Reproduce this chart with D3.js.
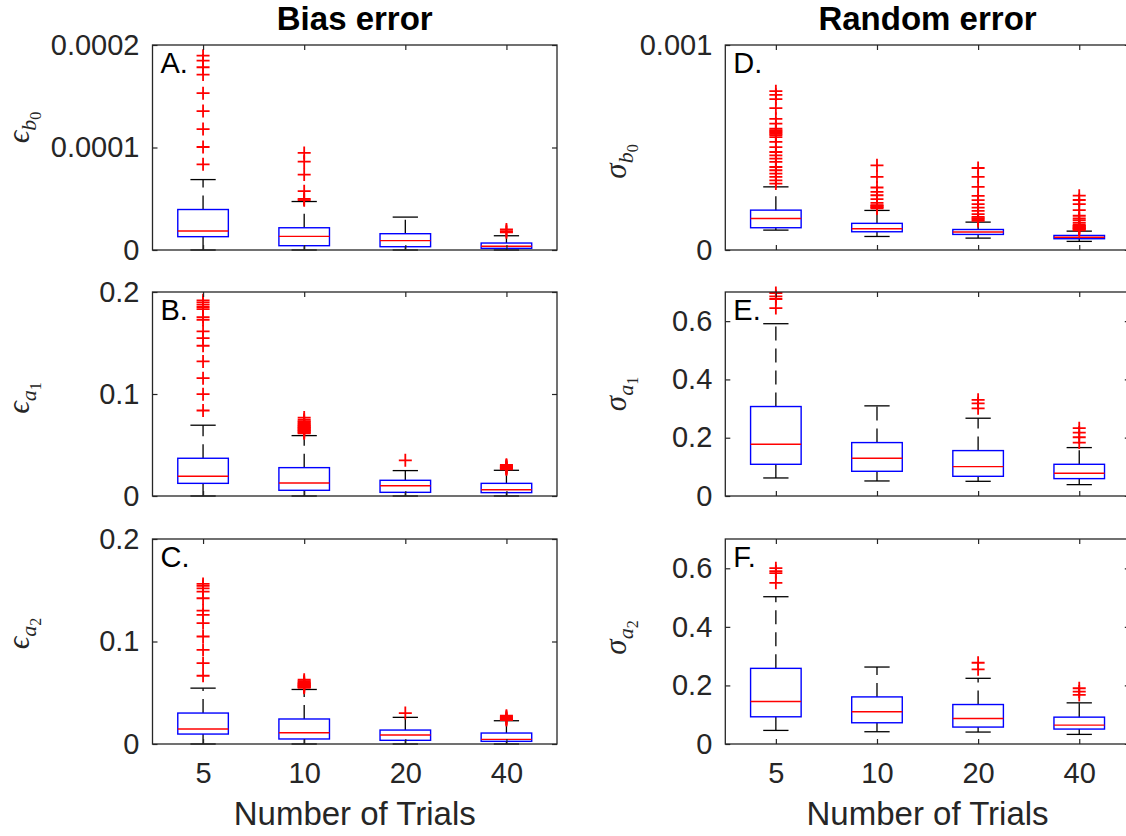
<!DOCTYPE html>
<html>
<head>
<meta charset="utf-8">
<script src="https://cdn.jsdelivr.net/npm/d3@7"></script>
<style>
  body { margin: 0; background: #fff; }
  svg { display: block; font-family: "Liberation Sans", Arial, sans-serif; }
</style>
</head>
<body>
<div id="chart"></div>
<script>
const trials = ["5", "10", "20", "40"];

// box stats per trial count: [lower whisker, q1, median, q3, upper whisker]
const biasB0Stats = [
  [0, 1.30e-5, 1.85e-5, 3.95e-5, 6.87e-5],
  [0, 4.2e-6, 1.33e-5, 2.17e-5, 4.73e-5],
  [0, 3.2e-6, 9.1e-6, 1.59e-5, 3.21e-5],
  [0, 1.6e-6, 3.6e-6, 6.8e-6, 1.39e-5]
];
const biasB0Outliers = [
  [8.36e-5, 1.005e-4, 1.18e-4, 1.355e-4, 1.53e-4, 1.711e-4, 1.783e-4, 1.848e-4, 1.896e-4],
  [4.86e-5, 4.99e-5, 5.74e-5, 7.36e-5, 8.62e-5, 9.47e-5],
  [],
  [1.72e-5, 1.85e-5, 2.01e-5]
];

const biasA1Stats = [
  [0, 0.0124, 0.0193, 0.0370, 0.0694],
  [0, 0.0056, 0.0128, 0.0278, 0.0592],
  [0, 0.0036, 0.0101, 0.0154, 0.0249],
  [0, 0.0033, 0.0062, 0.0124, 0.0252]
];
const biasA1Outliers = [
  [0.0838, 0.0998, 0.1155, 0.1319, 0.1473, 0.1548, 0.1614, 0.1728, 0.1754, 0.1833, 0.1853, 0.1876, 0.1899, 0.1918],
  [0.0615, 0.0622, 0.0631, 0.0638, 0.0646, 0.0653, 0.0660, 0.0668, 0.0675, 0.0684, 0.0692, 0.0701, 0.0712, 0.0723, 0.0735, 0.0748, 0.0769],
  [0.0350],
  [0.0262, 0.0268, 0.0273, 0.0279, 0.0284, 0.0291, 0.0298, 0.0306]
];

const biasA2Stats = [
  [0, 0.0097, 0.0146, 0.0302, 0.0545],
  [0, 0.0049, 0.0110, 0.0244, 0.0532],
  [0, 0.0036, 0.0088, 0.0136, 0.0260],
  [0, 0.0026, 0.0045, 0.0107, 0.0227]
];
const biasA2Outliers = [
  [0.0666, 0.0789, 0.0919, 0.1049, 0.1179, 0.1260, 0.1302, 0.1422, 0.1487, 0.1519, 0.1542, 0.1562],
  [0.0548, 0.0554, 0.0561, 0.0567, 0.0573, 0.0580, 0.0586, 0.0593, 0.0601, 0.0612, 0.0627],
  [0.0302],
  [0.0234, 0.0241, 0.0248, 0.0256, 0.0265, 0.0276]
];

const randB0Stats = [
  [9.7e-5, 1.086e-4, 1.54e-4, 1.945e-4, 3.08e-4],
  [6.6e-5, 8.9e-5, 1.04e-4, 1.30e-4, 1.93e-4],
  [5.8e-5, 7.6e-5, 8.75e-5, 1.00e-4, 1.36e-4],
  [4.2e-5, 5.5e-5, 6.2e-5, 7.1e-5, 9.2e-5]
];
const randB0Outliers = [
  [3.24e-4, 3.40e-4, 3.57e-4, 3.73e-4, 3.89e-4, 4.05e-4, 4.30e-4, 4.46e-4, 4.62e-4, 4.78e-4, 5.02e-4,
   5.27e-4, 5.51e-4, 5.60e-4, 5.67e-4, 5.74e-4, 5.79e-4, 5.85e-4, 5.92e-4, 6.16e-4, 6.40e-4, 6.92e-4,
   7.36e-4, 7.57e-4, 7.75e-4],
  [2.03e-4, 2.08e-4, 2.11e-4, 2.16e-4, 2.19e-4, 2.30e-4, 2.48e-4, 2.67e-4, 2.84e-4, 3.05e-4, 3.57e-4, 4.13e-4],
  [1.42e-4, 1.49e-4, 1.55e-4, 1.62e-4, 1.75e-4, 1.91e-4, 2.07e-4, 2.24e-4, 2.43e-4, 2.64e-4, 3.08e-4, 3.57e-4, 4.00e-4],
  [9.6e-5, 1.00e-4, 1.04e-4, 1.07e-4, 1.10e-4, 1.14e-4, 1.18e-4, 1.22e-4, 1.33e-4, 1.46e-4, 1.54e-4,
   1.67e-4, 1.95e-4, 2.24e-4, 2.44e-4, 2.65e-4]
];

const randA1Stats = [
  [0.0619, 0.1088, 0.1776, 0.3070, 0.5912],
  [0.0516, 0.0848, 0.1295, 0.1833, 0.3093],
  [0.0504, 0.0676, 0.1008, 0.1558, 0.2669],
  [0.0390, 0.0596, 0.0779, 0.1088, 0.1661]
];
const randA1Outliers = [
  [0.645, 0.676, 0.685, 0.6966],
  [],
  [0.301, 0.318, 0.330],
  [0.1833, 0.2016, 0.2177, 0.2326]
];

const randA2Stats = [
  [0.0464, 0.0929, 0.1450, 0.2583, 0.5029],
  [0.0419, 0.0725, 0.1099, 0.1608, 0.2628],
  [0.0408, 0.0578, 0.0872, 0.1348, 0.2243],
  [0.0328, 0.0510, 0.0646, 0.0917, 0.1405]
];
const randA2Outliers = [
  [0.5505, 0.5833, 0.590, 0.6003],
  [],
  [0.2549, 0.2775],
  [0.1676, 0.1790, 0.1903]
];

// y axis ticks
const b0BiasTicks = [0, 0.0001, 0.0002];
const b0BiasTickLabels = ["0", "0.0001", "0.0002"];
const aBiasTicks = [0, 0.1, 0.2];
const aBiasTickLabels = ["0", "0.1", "0.2"];
const b0RandTicks = [0, 0.001];
const b0RandTickLabels = ["0", "0.001"];
const aRandTicks = [0, 0.2, 0.4, 0.6];
const aRandTickLabels = ["0", "0.2", "0.4", "0.6"];

const columnTitles = ["Bias error", "Random error"];
const xLabel = "Number of Trials";

// ---- layout ----
const W = 1126, H = 836;
const cols = [[152.5, 557], [725.3, 1129.8]];
const rows = [[45, 250], [292, 496], [539, 744]];

const panels = [
  { tag: "A.", col: 0, row: 0, stats: biasB0Stats, out: biasB0Outliers, max: 0.0002, ticks: b0BiasTicks, labels: b0BiasTickLabels, sym: "\u03F5", sub: "b", subsub: "0", shift: -20 },
  { tag: "B.", col: 0, row: 1, stats: biasA1Stats, out: biasA1Outliers, max: 0.2, ticks: aBiasTicks, labels: aBiasTickLabels, sym: "\u03F5", sub: "a", subsub: "1", shift: 4 },
  { tag: "C.", col: 0, row: 2, stats: biasA2Stats, out: biasA2Outliers, max: 0.2, ticks: aBiasTicks, labels: aBiasTickLabels, sym: "\u03F5", sub: "a", subsub: "2", shift: -8 },
  { tag: "D.", col: 1, row: 0, stats: randB0Stats, out: randB0Outliers, max: 0.001, ticks: b0RandTicks, labels: b0RandTickLabels, sym: "\u03C3", sub: "b", subsub: "0", shift: 14 },
  { tag: "E.", col: 1, row: 1, stats: randA1Stats, out: randA1Outliers, max: 0.7, ticks: aRandTicks, labels: aRandTickLabels, sym: "\u03C3", sub: "a", subsub: "1", shift: 0 },
  { tag: "F.", col: 1, row: 2, stats: randA2Stats, out: randA2Outliers, max: 0.7, ticks: aRandTicks, labels: aRandTickLabels, sym: "\u03C3", sub: "a", subsub: "2", shift: -4 }
];

const axisColor = "#262626";
const tickFont = 29;

const svg = d3.select("#chart").append("svg")
  .attr("width", W)
  .attr("height", H);

panels.forEach(p => {
  const [x0, x1] = cols[p.col];
  const [y0, y1] = rows[p.row];
  const g = svg.append("g");

  const x = d3.scalePoint().domain(trials).range([x0, x1]).padding(0.5);
  const y = d3.scaleLinear().domain([0, p.max]).range([y1, y0]);
  const hw = x.step() * 0.25;

  // boxes
  trials.forEach((t, i) => {
    const [lo, q1, med, q3, hi] = p.stats[i];
    const cx = x(t);
    const b = g.append("g");

    b.append("line")
      .attr("x1", cx).attr("x2", cx)
      .attr("y1", y(q3)).attr("y2", y(hi))
      .attr("stroke", "#000").attr("stroke-width", 1.3)
      .attr("stroke-dasharray", "14,8");
    b.append("line")
      .attr("x1", cx).attr("x2", cx)
      .attr("y1", y(q1)).attr("y2", y(lo))
      .attr("stroke", "#000").attr("stroke-width", 1.3)
      .attr("stroke-dasharray", "14,8");

    [lo, hi].forEach(v => {
      b.append("line")
        .attr("x1", cx - hw / 2).attr("x2", cx + hw / 2)
        .attr("y1", y(v)).attr("y2", y(v))
        .attr("stroke", "#000").attr("stroke-width", 1.3);
    });

    b.append("rect")
      .attr("x", cx - hw).attr("width", hw * 2)
      .attr("y", y(q3)).attr("height", y(q1) - y(q3))
      .attr("fill", "none")
      .attr("stroke", "#0000ff").attr("stroke-width", 1.4);

    b.append("line")
      .attr("x1", cx - hw).attr("x2", cx + hw)
      .attr("y1", y(med)).attr("y2", y(med))
      .attr("stroke", "#ff0000").attr("stroke-width", 1.4);

    // outliers as red plus signs
    b.selectAll("path.out")
      .data(p.out[i])
      .join("path")
      .attr("class", "out")
      .attr("d", v => `M${cx - 6.5},${y(v)}H${cx + 6.5}M${cx},${y(v) - 6.5}V${y(v) + 6.5}`)
      .attr("stroke", "#ff0000")
      .attr("stroke-width", 1.8)
      .attr("fill", "none");
  });

  // axes, ticks pointing inward on all four sides
  g.append("g")
    .attr("transform", `translate(${x0},0)`)
    .call(d3.axisLeft(y).tickValues(p.ticks)
      .tickFormat((d, i) => p.labels[i])
      .tickSizeInner(-5).tickSizeOuter(0).tickPadding(13));
  g.append("g")
    .attr("transform", `translate(${x1},0)`)
    .call(d3.axisRight(y).tickValues(p.ticks).tickFormat("")
      .tickSizeInner(-5).tickSizeOuter(0));
  g.append("g")
    .attr("transform", `translate(0,${y1})`)
    .call(d3.axisBottom(x).tickSizeInner(-5).tickSizeOuter(0).tickPadding(18)
      .tickFormat(p.row === 2 ? d => d : ""));
  g.append("g")
    .attr("transform", `translate(0,${y0})`)
    .call(d3.axisTop(x).tickSizeInner(-5).tickSizeOuter(0).tickFormat(""));

  g.selectAll(".domain").remove();
  g.selectAll(".tick line").attr("stroke", axisColor).attr("stroke-width", 1.2);
  g.selectAll(".tick text")
    .attr("fill", axisColor)
    .style("font-size", tickFont + "px")
    .style("font-family", "'Liberation Sans', Arial, sans-serif");

  g.append("rect")
    .attr("x", x0).attr("y", y0)
    .attr("width", x1 - x0).attr("height", y1 - y0)
    .attr("fill", "none")
    .attr("stroke", axisColor)
    .attr("stroke-width", 1.3);

  // panel tag
  g.append("text")
    .attr("x", x0 + 8).attr("y", y0 + 28)
    .attr("fill", "#000")
    .style("font-size", "29px")
    .text(p.tag);

  // y label with nested subscripts
  const lx = p.col === 0 ? 29 : 626;
  const ly = (y0 + y1) / 2 + p.shift;
  const lab = g.append("text")
    .attr("transform", `translate(${lx},${ly}) rotate(-90)`)
    .attr("text-anchor", "middle")
    .attr("fill", axisColor)
    .style("font-family", "'Liberation Serif', 'DejaVu Serif', serif");
  lab.append("tspan").style("font-size", "31px").style("font-style", "italic").text(p.sym);
  lab.append("tspan").attr("dy", 7).style("font-size", "22px").style("font-style", "italic").text(p.sub);
  lab.append("tspan").attr("dy", 5).style("font-size", "16px").text(p.subsub);
});

// column titles and x labels
cols.forEach(([x0, x1], c) => {
  svg.append("text")
    .attr("x", (x0 + x1) / 2).attr("y", 30)
    .attr("text-anchor", "middle")
    .attr("fill", "#000")
    .style("font-size", "33px")
    .style("font-weight", "bold")
    .text(columnTitles[c]);
  svg.append("text")
    .attr("x", (x0 + x1) / 2).attr("y", 825)
    .attr("text-anchor", "middle")
    .attr("fill", axisColor)
    .style("font-size", "33px")
    .text(xLabel);
});
</script>
</body>
</html>
